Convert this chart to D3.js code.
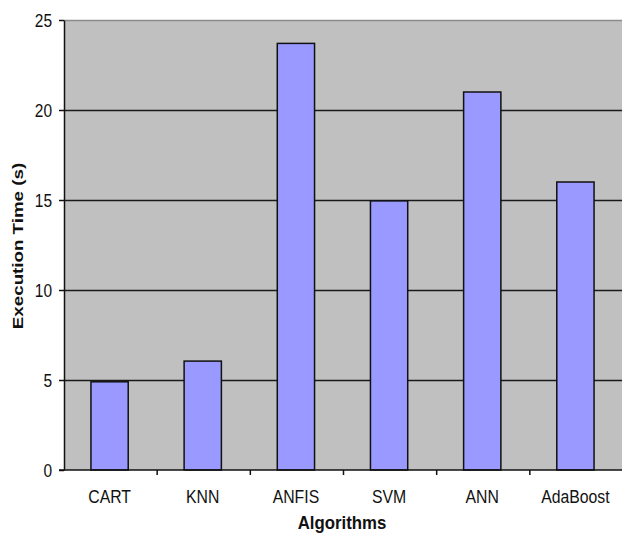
<!DOCTYPE html>
<html>
<head>
<meta charset="utf-8">
<script src="https://cdn.jsdelivr.net/npm/d3@7"></script>
<style>
  html, body { margin: 0; padding: 0; background: #fff; }
  svg { display: block; }
  text { font-family: "Liberation Sans", Arial, sans-serif; fill: #111; }
</style>
</head>
<body>
<svg id="chart" width="622" height="535"></svg>
<script>
// Execution time per algorithm, in seconds
const algorithms = ["CART", "KNN", "ANFIS", "SVM", "ANN", "AdaBoost"];
const execTimes = [4.9, 6.05, 23.7, 14.95, 21.0, 16.0];
const yTicks = [0, 5, 10, 15, 20, 25];

const svg = d3.select("#chart");
const plot = { left: 64, top: 20, right: 623, bottom: 470 };

const x = d3.scaleBand()
  .domain(algorithms)
  .range([plot.left, plot.right])
  .paddingInner(0)
  .paddingOuter(0);

const y = d3.scaleLinear()
  .domain([0, 25])
  .range([plot.bottom, plot.top]);

// Plot area background
svg.append("rect")
  .attr("x", plot.left)
  .attr("y", plot.top)
  .attr("width", plot.right - plot.left)
  .attr("height", plot.bottom - plot.top)
  .attr("fill", "#c0c0c0");

// Top border of the plot area
svg.append("line")
  .attr("x1", plot.left).attr("x2", plot.right)
  .attr("y1", plot.top + 0.5).attr("y2", plot.top + 0.5)
  .attr("stroke", "#8c8c8c").attr("stroke-width", 1.5);

// Horizontal gridlines
svg.append("g")
  .selectAll("line")
  .data(yTicks.filter(d => d > 0 && d < 25))
  .join("line")
  .attr("x1", plot.left).attr("x2", plot.right)
  .attr("y1", d => Math.round(y(d)) + 0.5)
  .attr("y2", d => Math.round(y(d)) + 0.5)
  .attr("stroke", "#1a1a1a").attr("stroke-width", 1.3);

// Bars
const barW = x.bandwidth() * 0.4;
svg.append("g")
  .selectAll("rect")
  .data(algorithms.map((a, i) => ({ a, v: execTimes[i] })))
  .join("rect")
  .attr("x", d => x(d.a) + (x.bandwidth() - barW) / 2 - 1)
  .attr("y", d => y(d.v))
  .attr("width", barW)
  .attr("height", d => y(0) - y(d.v))
  .attr("fill", "#9999ff")
  .attr("stroke", "#111")
  .attr("stroke-width", 1.5);

// Y axis
const yAxis = svg.append("g")
  .attr("transform", `translate(${plot.left},0)`)
  .call(d3.axisLeft(y).tickValues(yTicks).tickSize(5).tickSizeOuter(0).tickPadding(7));
yAxis.select(".domain").attr("stroke", "#111").attr("stroke-width", 1.5);
yAxis.selectAll(".tick line").attr("stroke", "#111").attr("stroke-width", 1.5);
yAxis.selectAll(".tick text")
  .style("font-family", "'Liberation Sans', Arial, sans-serif")
  .style("font-size", "15.5px")
  .attr("fill", "#111")
  .attr("dy", "0.36em")
  .attr("transform", "scale(1,1.2)")
  .attr("y", 0);

// X axis: ticks sit on category boundaries
const xAxisG = svg.append("g");
xAxisG.append("line")
  .attr("x1", plot.left - 5).attr("x2", plot.right)
  .attr("y1", plot.bottom).attr("y2", plot.bottom)
  .attr("stroke", "#111").attr("stroke-width", 1.5);
xAxisG.selectAll("line.tick")
  .data(algorithms.slice(1))
  .join("line")
  .attr("class", "tick")
  .attr("x1", d => x(d)).attr("x2", d => x(d))
  .attr("y1", plot.bottom).attr("y2", plot.bottom + 5)
  .attr("stroke", "#111").attr("stroke-width", 1.5);
xAxisG.selectAll("text")
  .data(algorithms)
  .join("text")
  .attr("transform", d => `translate(${x(d) + x.bandwidth() / 2 - 1},503) scale(1,1.2)`)
  .attr("text-anchor", "middle")
  .style("font-size", "15.8px")
  .text(d => d);

// Axis titles
svg.append("text")
  .attr("transform", "translate(342,529) scale(1,1.1)")
  .attr("text-anchor", "middle")
  .style("font-size", "16.8px")
  .style("font-weight", "bold")
  .text("Algorithms");

svg.append("text")
  .attr("transform", "translate(23,246) rotate(-90) scale(1.25,1)")
  .attr("text-anchor", "middle")
  .style("font-size", "15px")
  .style("font-weight", "bold")
  .text("Execution Time (s)");
</script>
</body>
</html>
